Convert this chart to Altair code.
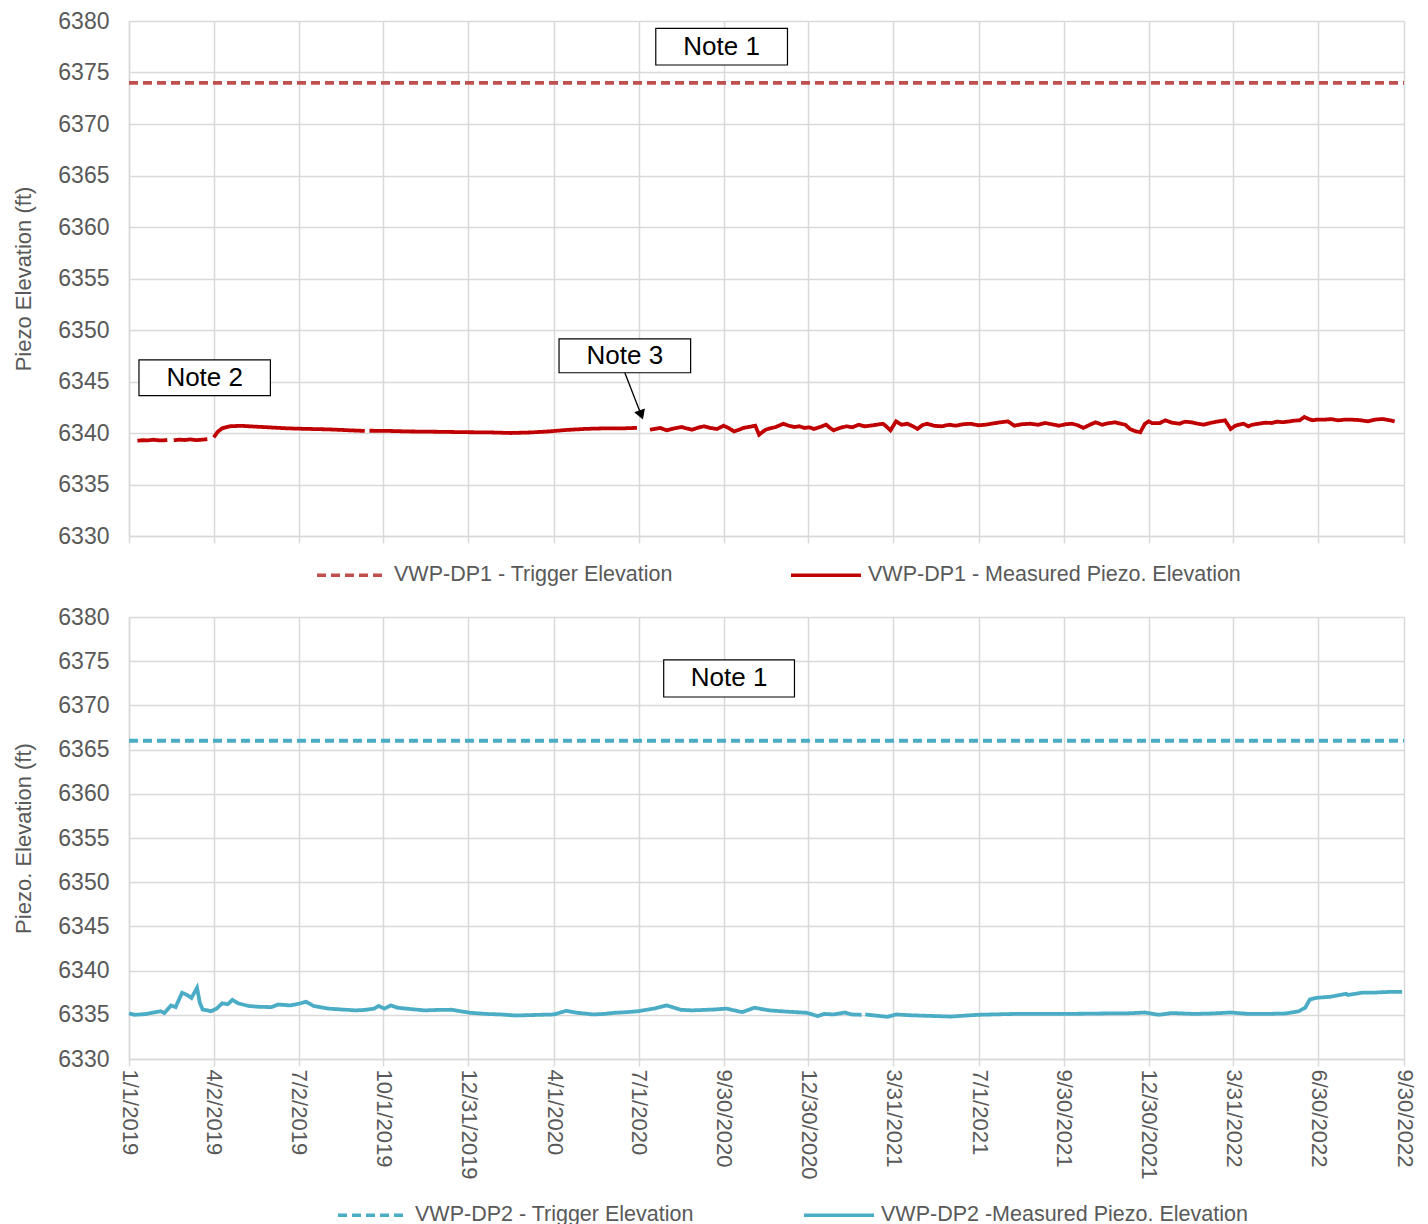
import altair as alt
import pandas as pd

# ---------------- data ----------------
BASE_DATE = "2019-01-01"
DOMAIN_START = "2019-01-01"
DOMAIN_END = "2022-09-30"
TICK_DATES = ["2019-01-01", "2019-04-02", "2019-07-02", "2019-10-01", "2019-12-31",
              "2020-04-01", "2020-07-01", "2020-09-30", "2020-12-30", "2021-03-31",
              "2021-07-01", "2021-09-30", "2021-12-30", "2022-03-31", "2022-06-30",
              "2022-09-30"]
Y_TICKS = [6330, 6335, 6340, 6345, 6350, 6355, 6360, 6365, 6370, 6375, 6380]

DP1_TRIGGER = 6374.0
DP2_TRIGGER = 6366.0

# VWP-DP1 measured (days since 1/1/2019, value, segment id)
dp1_days = [9, 15, 20, 26, 30, 36, 41,
            48, 54, 60, 66, 72, 78, 84,
            91, 95, 100, 108, 120, 135, 150, 170, 190, 215, 240, 253,
            258, 280, 300, 330, 360, 390, 410, 430, 450, 470, 490, 510, 530, 545,
            559, 564, 570, 577, 585, 593, 598, 604, 610, 617, 623, 631, 638, 644, 649, 654,
            659, 666, 672, 676, 683, 688, 694, 702, 708, 714, 719, 725, 730, 735, 742, 748,
            752, 756, 763, 770, 776, 783, 789, 795, 802, 809, 813, 817, 823, 829, 835, 840,
            846, 851, 856, 864, 872, 880, 887, 895, 903, 911, 920, 925, 930, 936, 943, 950,
            958, 967, 975, 983, 990, 998, 1005, 1012, 1018, 1024, 1031, 1037, 1044, 1051,
            1058, 1064, 1069, 1074, 1079, 1085, 1090, 1094, 1098, 1106, 1112, 1119, 1127,
            1133, 1140, 1147, 1153, 1160, 1167, 1176, 1182, 1187, 1191, 1196, 1201, 1205,
            1212, 1219, 1226, 1232, 1238, 1245, 1250, 1256, 1261, 1266, 1270, 1274, 1282,
            1290, 1297, 1305, 1313, 1321, 1329, 1337, 1345, 1352, 1358, 1363, 1368]
dp1_vals = [6339.25, 6339.3, 6339.28, 6339.35, 6339.3, 6339.28, 6339.32,
            6339.3, 6339.35, 6339.32, 6339.38, 6339.3, 6339.35, 6339.4,
            6339.58, 6340.1, 6340.46, 6340.65, 6340.7, 6340.62, 6340.55, 6340.45, 6340.4, 6340.35, 6340.25, 6340.2,
            6340.22, 6340.2, 6340.15, 6340.12, 6340.08, 6340.05, 6340.0, 6340.05, 6340.15, 6340.3, 6340.4, 6340.45, 6340.45, 6340.5,
            6340.32, 6340.4, 6340.49, 6340.26, 6340.45, 6340.58, 6340.45, 6340.32, 6340.5, 6340.65, 6340.5, 6340.39, 6340.71, 6340.45, 6340.16, 6340.3,
            6340.49, 6340.6, 6340.71, 6339.84, 6340.32, 6340.45, 6340.58, 6340.9, 6340.7, 6340.58, 6340.65, 6340.49, 6340.55, 6340.39, 6340.6, 6340.81,
            6340.5, 6340.26, 6340.5, 6340.65, 6340.55, 6340.81, 6340.65, 6340.71, 6340.8, 6340.9, 6340.6, 6340.26, 6341.13, 6340.8, 6340.9, 6340.7,
            6340.39, 6340.75, 6340.9, 6340.7, 6340.65, 6340.8, 6340.71, 6340.85, 6340.9, 6340.75, 6340.81, 6340.9, 6340.97, 6341.05,
            6341.13, 6340.71, 6340.85, 6340.9, 6340.8, 6340.97, 6340.85, 6340.71, 6340.85, 6340.9, 6340.75, 6340.49, 6340.8, 6341.04,
            6340.81, 6340.95, 6341.04, 6340.9, 6340.8, 6340.39, 6340.2, 6340.06, 6340.9, 6341.13, 6340.95, 6340.97, 6341.23,
            6341.0, 6340.9, 6341.1, 6341.04, 6340.9, 6340.81, 6340.97, 6341.1, 6341.23, 6340.39, 6340.7, 6340.81, 6340.9,
            6340.65, 6340.8, 6340.9, 6341.0, 6340.97, 6341.1, 6341.05, 6341.13, 6341.2, 6341.23, 6341.55, 6341.35, 6341.23,
            6341.3, 6341.29, 6341.35, 6341.23, 6341.3, 6341.29, 6341.25, 6341.13, 6341.3, 6341.36, 6341.25, 6341.13]
dp1_seg = [0] * 7 + [1] * 7 + [2] * 12 + [3] * 14 + [4] * (len(dp1_days) - 40)

# VWP-DP2 measured
dp2_days = [0, 6, 12, 19, 26, 34, 38, 45, 50, 57, 63, 67, 73, 76, 79, 84, 88, 94, 100, 106, 111, 117,
            128, 140, 153, 160, 173, 182, 190, 198, 206, 214, 228, 243, 253, 263, 268, 274, 281, 288,
            302, 317, 331, 346, 356, 366, 383, 399, 415, 435, 456, 469, 481, 498, 510, 521, 534, 546,
            563, 577, 592, 604, 616, 628, 641, 658, 671, 687, 707, 727, 739, 746, 756, 768, 775, 786,
            790, 802, 814, 823, 838, 852, 867, 882, 896, 911, 930, 950, 973, 998, 1022, 1047, 1068,
            1090, 1105, 1119, 1143, 1162, 1182, 1201, 1220, 1241, 1255, 1262, 1267, 1274, 1289, 1306,
            1308, 1323, 1335, 1347, 1357, 1366]
dp2_vals = [6335.15, 6335.0, 6335.04, 6335.1, 6335.26, 6335.4, 6335.2, 6336.06, 6335.87, 6337.5, 6337.2, 6336.9,
            6338.06, 6336.36, 6335.6, 6335.5, 6335.4, 6335.7, 6336.3, 6336.2, 6336.7, 6336.3,
            6336.0, 6335.9, 6335.87, 6336.17, 6336.06, 6336.25, 6336.47, 6336.0, 6335.85, 6335.7, 6335.6, 6335.5, 6335.55,
            6335.7, 6336.0, 6335.7, 6336.06, 6335.8, 6335.65, 6335.5, 6335.55, 6335.57, 6335.4, 6335.23, 6335.1, 6335.04,
            6334.92, 6334.98, 6335.04, 6335.45, 6335.23, 6335.04, 6335.1, 6335.23, 6335.3, 6335.4, 6335.7, 6336.06,
            6335.57, 6335.5, 6335.55, 6335.6, 6335.7, 6335.3, 6335.8, 6335.5, 6335.35, 6335.23, 6334.85, 6335.1, 6335.04,
            6335.26, 6335.04, 6335.0,
            6335.04, 6334.9, 6334.77, 6335.04, 6334.95, 6334.9, 6334.85, 6334.8, 6334.9, 6335.0, 6335.05, 6335.1, 6335.1,
            6335.1, 6335.12, 6335.15, 6335.15, 6335.26, 6335.0, 6335.2, 6335.1, 6335.15, 6335.26, 6335.1, 6335.1, 6335.15,
            6335.4, 6335.8, 6336.74, 6336.92, 6337.04, 6337.38, 6337.25, 6337.5, 6337.5, 6337.57, 6337.6, 6337.6]
dp2_seg = [0] * 76 + [1] * (len(dp2_days) - 76)

# annotation boxes (days since 1/1/2019 and elevations)
top_note_text = ["Note 1", "Note 2", "Note 3"]
top_note_x1 = [565.2, 10.7, 461.4]
top_note_x2 = [706.5, 151.7, 602.6]
top_note_y1 = [6375.73, 6343.62, 6345.85]
top_note_y2 = [6379.29, 6347.09, 6349.13]
bot_note_text = ["Note 1"]
bot_note_x1 = [573.7]
bot_note_x2 = [714.0]
bot_note_y1 = [6370.95]
bot_note_y2 = [6375.14]
arrow_x1, arrow_y1 = 532.0, 6345.85
arrow_x2, arrow_y2 = 549.6, 6341.75

# ---------------- helpers ----------------
base = pd.Timestamp(BASE_DATE)


def to_date(d):
    return (base + pd.Timedelta(days=float(d))).strftime("%Y-%m-%dT%H:%M:%SZ")


def dt(s):
    t = pd.Timestamp(s)
    return alt.DateTime(year=t.year, month=t.month, date=t.day, utc=True)


FONT = "Liberation Sans"
GRAY = "#595959"
GRID = "#D9D9D9"
W = 1275

x_scale = alt.Scale(type="utc", domain=[dt(DOMAIN_START), dt(DOMAIN_END)])
y_scale = alt.Scale(domain=[6330, 6380], nice=False, zero=False)


def series_frame(trigger, trig_name, days, vals, segs, meas_name):
    rows = [
        {"date": to_date(0), "value": trigger, "series": trig_name, "seg": "t"},
        {"date": to_date(1368), "value": trigger, "series": trig_name, "seg": "t"},
    ]
    for d, v, s in zip(days, vals, segs):
        rows.append({"date": to_date(d), "value": v, "series": meas_name, "seg": f"m{s}"})
    return pd.DataFrame(rows)


def notes_frame(texts, x1, x2, y1, y2):
    return pd.DataFrame({
        "text": texts,
        "x1": [to_date(v) for v in x1],
        "x2": [to_date(v) for v in x2],
        "xm": [to_date((a + b) / 2) for a, b in zip(x1, x2)],
        "y1": y1,
        "y2": y2,
        "ym": [(a + b) / 2 for a, b in zip(y1, y2)],
    })


def panel(df, names, colors, ytitle, notes, show_labels, legend_x, legend_y, col_pad, height, arrow=None):
    xaxis = alt.Axis(values=[dt(s) for s in TICK_DATES],
                     labelExpr="utcFormat(datum.value, '%-m/%-d/%Y')",
                     labels=show_labels, labelAngle=90, labelFontSize=22, labelPadding=3,
                     tickSize=7, title=None, grid=True)
    yaxis = alt.Axis(values=Y_TICKS, format="d", title=ytitle, ticks=False, labelPadding=20,
                     titlePadding=22, labelFontSize=23, titleFontSize=22, titleFontWeight="normal")
    legend = alt.Legend(orient="none", legendX=legend_x, legendY=legend_y, direction="horizontal",
                        title=None, symbolType="stroke", symbolSize=4900, symbolStrokeWidth=3.5,
                        labelFontSize=21.5, labelFont=FONT, labelColor=GRAY, labelOffset=5,
                        columnPadding=col_pad, labelLimit=800, padding=0)
    lines = alt.Chart(df).mark_line(strokeWidth=3.8).encode(
        x=alt.X("date:T", scale=x_scale, axis=xaxis),
        y=alt.Y("value:Q", scale=y_scale, axis=yaxis),
        color=alt.Color("series:N", scale=alt.Scale(domain=names, range=colors), legend=legend),
        strokeDash=alt.StrokeDash("series:N", scale=alt.Scale(domain=names, range=[[9, 5], [1, 0]]),
                                  legend=legend),
        detail="seg:N",
        order=alt.Order("date:T"),
    )
    boxes = alt.Chart(notes).mark_rect(fill="white", stroke="black", strokeWidth=1.2).encode(
        x="x1:T", x2="x2:T", y="y1:Q", y2="y2:Q")
    texts = alt.Chart(notes).mark_text(font=FONT, fontSize=26, color="black").encode(
        x="xm:T", y="ym:Q", text="text:N")
    layers = [lines, boxes, texts]
    if arrow is not None:
        ar = pd.DataFrame({"x1": [to_date(arrow[0])], "y1": [arrow[1]],
                           "x2": [to_date(arrow[2])], "y2": [arrow[3]]})
        rule = alt.Chart(ar).mark_rule(color="black", strokeWidth=1.3).encode(
            x="x1:T", y="y1:Q", x2="x2:T", y2="y2:Q")
        head = alt.Chart(ar).mark_point(shape="triangle-down", filled=True, color="black",
                                        size=130, angle=340, opacity=1).encode(x="x2:T", y="y2:Q")
        layers += [rule, head]
    return alt.layer(*layers).properties(width=W, height=height)


top_df = series_frame(DP1_TRIGGER, "VWP-DP1 - Trigger Elevation", dp1_days, dp1_vals, dp1_seg,
                      "VWP-DP1 - Measured Piezo. Elevation")
bot_df = series_frame(DP2_TRIGGER, "VWP-DP2 - Trigger Elevation", dp2_days, dp2_vals, dp2_seg,
                      "VWP-DP2 -Measured Piezo. Elevation")

top = panel(top_df, ["VWP-DP1 - Trigger Elevation", "VWP-DP1 - Measured Piezo. Elevation"],
            ["#C0504D", "#C00000"], "Piezo Elevation (ft)",
            notes_frame(top_note_text, top_note_x1, top_note_x2, top_note_y1, top_note_y2),
            False, 186, 517, 111, 515, arrow=(arrow_x1, arrow_y1, arrow_x2, arrow_y2))
bottom = panel(bot_df, ["VWP-DP2 - Trigger Elevation", "VWP-DP2 -Measured Piezo. Elevation"],
               ["#4BACC6", "#4BACC6"], "Piezo. Elevation (ft)",
               notes_frame(bot_note_text, bot_note_x1, bot_note_x2, bot_note_y1, bot_note_y2),
               True, 207, 561, 103, 442)

chart = alt.vconcat(top, bottom, spacing=20).resolve_scale(color="independent", strokeDash="independent")
chart = chart.properties(padding={"left": 4, "top": 2, "right": 4, "bottom": 0}).configure(
    font=FONT
).configure_view(stroke=None).configure_axis(
    labelFont=FONT, titleFont=FONT, labelColor=GRAY, titleColor=GRAY,
    gridColor=GRID, gridWidth=1.5, domainColor=GRID, domainWidth=1.5, tickColor=GRID, tickWidth=1.5,
)

chart.save("out.html", embed_options={"renderer": "svg", "actions": False})
